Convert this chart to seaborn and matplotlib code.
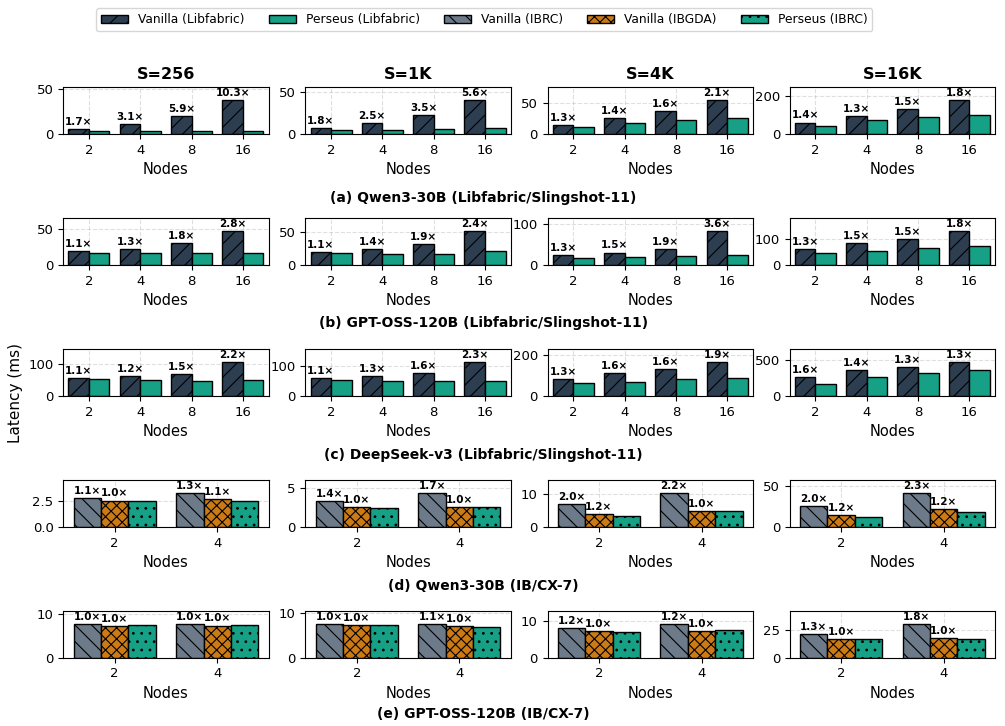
import matplotlib
matplotlib.use('Agg')
import matplotlib.pyplot as plt
from matplotlib.patches import Patch
from matplotlib.ticker import MaxNLocator
import pandas as pd
import seaborn as sns

# categories
sizes = ['S=256', 'S=1K', 'S=4K', 'S=16K']
nodes_lf = ['2', '4', '8', '16']
nodes_ib = ['2', '4']

# (a) Qwen3-30B, Libfabric/Slingshot-11 -- one list per S
qwen_lf_vanilla = [[6.0, 10.8, 20.5, 38.0], [7.7, 13.3, 23.0, 40.7],
                   [14.5, 25.0, 37.0, 54.0], [60, 95, 130, 177]]
qwen_lf_perseus = [[3.5, 3.5, 3.5, 3.7], [4.3, 5.3, 6.6, 7.3],
                   [11.0, 18.0, 23.0, 26.0], [43, 73, 87, 99]]

# (b) GPT-OSS-120B, Libfabric/Slingshot-11
gpt_lf_vanilla = [[19.0, 22.0, 30.5, 47.7], [19.3, 23.3, 31.7, 51.0],
                  [23.4, 30.0, 39.5, 82.0], [61, 82, 99, 129]]
gpt_lf_perseus = [[17.0, 17.0, 17.0, 17.0], [17.5, 16.8, 16.6, 21.0],
                  [18.0, 19.5, 21.0, 23.0], [46, 54, 65, 72]]

# (c) DeepSeek-v3, Libfabric/Slingshot-11
ds_lf_vanilla = [[56, 62, 70, 107], [60, 67, 78, 115],
                 [83, 112, 134, 167], [259, 356, 398, 468]]
ds_lf_perseus = [[53, 51, 48, 49], [54, 52, 49, 50],
                 [64, 70, 83, 88], [165, 260, 313, 350]]

# (d) Qwen3-30B, IB/CX-7
qwen_ib_vanilla_ibrc = [[2.75, 3.23], [3.4, 4.43], [6.9, 10.4], [25.2, 42.1]]
qwen_ib_vanilla_ibgda = [[2.5, 2.66], [2.6, 2.6], [4.0, 4.9], [14.9, 22.3]]
qwen_ib_perseus = [[2.5, 2.47], [2.48, 2.6], [3.4, 4.7], [12.4, 18.2]]

# (e) GPT-OSS-120B, IB/CX-7
gpt_ib_vanilla_ibrc = [[7.7, 7.6], [7.6, 7.5], [8.1, 9.2], [21.7, 30.7]]
gpt_ib_vanilla_ibgda = [[7.1, 7.3], [7.3, 7.0], [7.2, 7.3], [17.2, 17.8]]
gpt_ib_perseus = [[7.4, 7.5], [7.3, 6.8], [7.0, 7.6], [16.6, 17.2]]

captions = ['(a) Qwen3-30B (Libfabric/Slingshot-11)',
            '(b) GPT-OSS-120B (Libfabric/Slingshot-11)',
            '(c) DeepSeek-v3 (Libfabric/Slingshot-11)',
            '(d) Qwen3-30B (IB/CX-7)',
            '(e) GPT-OSS-120B (IB/CX-7)']

# styles
systems = ['Vanilla (Libfabric)', 'Perseus (Libfabric)', 'Vanilla (IBRC)',
           'Vanilla (IBGDA)', 'Perseus (IBRC)']
colors = {'Vanilla (Libfabric)': '#2c3e50', 'Perseus (Libfabric)': '#16a085',
          'Vanilla (IBRC)': '#6c7a89', 'Vanilla (IBGDA)': '#cc7a14',
          'Perseus (IBRC)': '#16a085'}
hatches = {'Vanilla (Libfabric)': '//', 'Perseus (Libfabric)': '',
           'Vanilla (IBRC)': '\\\\', 'Vanilla (IBGDA)': 'xxx',
           'Perseus (IBRC)': '..'}

rows = [
    (nodes_lf, [('Vanilla (Libfabric)', qwen_lf_vanilla), ('Perseus (Libfabric)', qwen_lf_perseus)]),
    (nodes_lf, [('Vanilla (Libfabric)', gpt_lf_vanilla), ('Perseus (Libfabric)', gpt_lf_perseus)]),
    (nodes_lf, [('Vanilla (Libfabric)', ds_lf_vanilla), ('Perseus (Libfabric)', ds_lf_perseus)]),
    (nodes_ib, [('Vanilla (IBRC)', qwen_ib_vanilla_ibrc), ('Vanilla (IBGDA)', qwen_ib_vanilla_ibgda),
                ('Perseus (IBRC)', qwen_ib_perseus)]),
    (nodes_ib, [('Vanilla (IBRC)', gpt_ib_vanilla_ibrc), ('Vanilla (IBGDA)', gpt_ib_vanilla_ibgda),
                ('Perseus (IBRC)', gpt_ib_perseus)]),
]

plt.rcParams['hatch.linewidth'] = 0.8

fig, axes = plt.subplots(5, 4, figsize=(10.05, 7.26), dpi=100)
fig.subplots_adjust(left=0.063, right=0.99, top=0.88, bottom=0.094,
                    wspace=0.18, hspace=1.79)

for r, (nodes, series) in enumerate(rows):
    for c in range(4):
        ax = axes[r, c]
        recs = []
        for name, vals in series:
            for n, v in zip(nodes, vals[c]):
                recs.append({'Nodes': n, 'System': name, 'Latency': v})
        df = pd.DataFrame(recs)
        order = [s[0] for s in series]
        sns.barplot(data=df, x='Nodes', y='Latency', hue='System', order=nodes,
                    hue_order=order, palette=[colors[s] for s in order],
                    edgecolor='black', linewidth=1, saturation=1, legend=False, ax=ax)
        base = series[-1][1][c]
        for cont, (name, vals) in zip(ax.containers, series):
            for bar in cont:
                bar.set_hatch(hatches[name])
            if name.startswith('Vanilla'):
                labels = [f'{v / b:.1f}×' for v, b in zip(vals[c], base)]
                ax.bar_label(cont, labels=labels, fontsize=7.5, fontweight='bold', padding=1.5)
        vmax = max(max(v[c]) for _, v in series)
        ax.set_ylim(0, vmax * 1.38)
        ax.yaxis.set_major_locator(MaxNLocator(nbins=2, steps=[1, 2, 2.5, 5, 10]))
        ax.set_xlabel('Nodes', fontsize=10.5)
        ax.set_ylabel('')
        ax.tick_params(labelsize=9.5)
        ax.grid(True, linestyle='--', alpha=0.4)
        ax.set_axisbelow(True)
        if r == 0:
            ax.set_title(sizes[c], fontsize=11.5, fontweight='bold')

cap_y = [0.727, 0.555, 0.373, 0.193, 0.0165]
for cap, y in zip(captions, cap_y):
    fig.text(0.481, y, cap, ha='center', va='center', fontsize=10, fontweight='bold')

fig.text(0.015, 0.459, 'Latency (ms)', rotation=90, ha='center', va='center', fontsize=11)

handles = [Patch(facecolor=colors[s], edgecolor='black', hatch=hatches[s], label=s)
           for s in systems]
fig.legend(handles=handles, loc='upper center', bbox_to_anchor=(0.482, 0.997),
           ncol=5, fontsize=8.8, handlelength=2.2, columnspacing=2.0)

fig.savefig('out.png', dpi=100)
